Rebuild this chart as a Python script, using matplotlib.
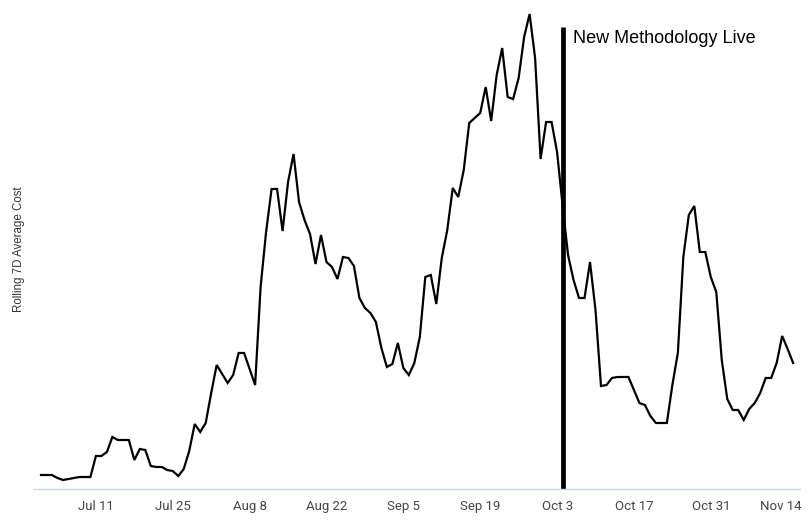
import numpy as np
import pandas as pd
import matplotlib
matplotlib.use("Agg")
import matplotlib.pyplot as plt
import matplotlib.dates as mdates
from matplotlib.transforms import ScaledTranslation

## Data: daily rolling 7D average cost (arbitrary units)
dates = pd.date_range("2022-07-01", periods=138, freq="D")
cost = [14, 14, 14, 11, 9, 10, 11, 12, 12, 12,
        33, 33, 37, 52, 49, 49, 49, 29, 40, 39,
        23, 22, 22, 19, 18, 13, 20, 38, 65, 57,
        66, 96, 124, 115, 106, 114, 136, 136, 120, 104,
        202, 257, 300, 300, 258, 307, 335, 287, 269, 255,
        225, 254, 227, 222, 210, 232, 231, 223, 191, 181,
        176, 167, 141, 122, 125, 146, 121, 114, 126, 152,
        212, 214, 185, 231, 259, 301, 292, 319, 366, 371,
        376, 402, 368, 414, 441, 392, 390, 411, 452, 475,
        431, 330, 367, 367, 337, 284, 234, 209, 191, 191,
        227, 179, 103, 104, 111, 112, 112, 112, 99, 86,
        84, 73, 66, 66, 66, 104, 136, 232, 274, 283,
        237, 237, 212, 197, 129, 90, 79, 79, 69, 80,
        86, 96, 111, 111, 126, 153, 140, 126]

launch_date = pd.Timestamp("2022-10-04")
launch_label = "New Methodology Live"
launch_top = 462

tick_dates = pd.date_range("2022-07-11", "2022-11-14", freq="14D")

## Plot
fig = plt.figure(figsize=(8.1, 5.26), dpi=100)
ax = fig.add_axes([34 / 810, 37 / 526, 766 / 810, 479 / 526])

ax.plot(dates, cost, color="black", linewidth=1.6, solid_joinstyle="miter")
ax.vlines(launch_date, 0, launch_top, color="black", linewidth=3.4)
ax.text(launch_date + pd.Timedelta(days=1.9), launch_top - 11, launch_label,
        fontsize=13, family="Liberation Sans", va="center", ha="left")

ax.set_xlim(dates[0] - pd.Timedelta(days=1.275), dates[0] + pd.Timedelta(days=138.25))
ax.set_ylim(0, 479)

ax.set_xticks(tick_dates)
ax.xaxis.set_major_formatter(mdates.DateFormatter("%b %-d"))
ax.tick_params(axis="x", length=0, pad=8, labelsize=9.5, labelcolor="#444444")
labels = ax.get_xticklabels()
for lab in labels:
    lab.set_family("Roboto")
# last label is pushed inside the chart edge, like the original
labels[-1].set_transform(labels[-1].get_transform()
                         + ScaledTranslation(-7 / 100, 0, fig.dpi_scale_trans))
ax.set_yticks([])

for side in ["top", "right", "left"]:
    ax.spines[side].set_visible(False)
ax.spines["bottom"].set_color("#ccd6e0")
ax.spines["bottom"].set_linewidth(1)

fig.text(19 / 810, 1 - 249 / 526, "Rolling 7D Average Cost", rotation=90,
         fontsize=8.3, family="Liberation Sans", color="#333333",
         ha="center", va="center")

fig.savefig("out.png", dpi=100)
